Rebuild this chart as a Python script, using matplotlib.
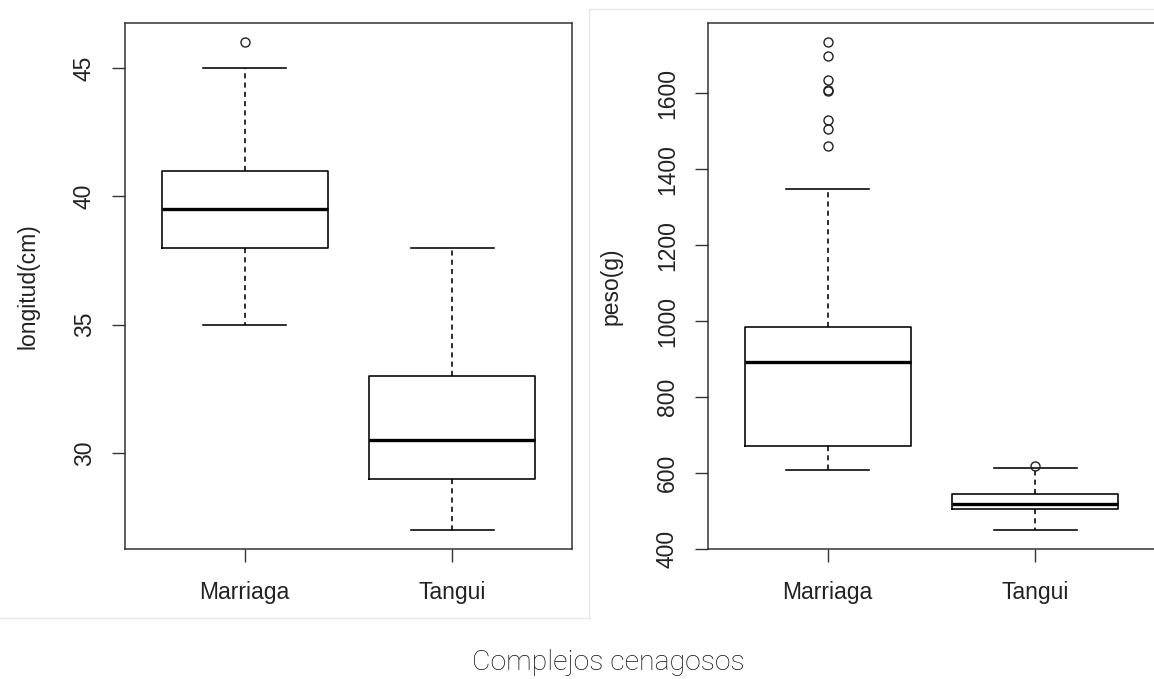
import matplotlib
matplotlib.use("Agg")
import matplotlib.pyplot as plt
from matplotlib.lines import Line2D

# ---- data ----
groups = ["Marriaga", "Tangui"]

long_whislo = [35, 27]
long_q1 = [38, 29]
long_med = [39.5, 30.5]
long_q3 = [41, 33]
long_whishi = [45, 38]
long_fliers = [[46], []]

peso_whislo = [608, 450]
peso_q1 = [672, 506]
peso_med = [892, 519]
peso_q3 = [984, 544]
peso_whishi = [1349, 612]
peso_fliers = [[1460, 1505, 1531, 1605, 1608, 1634, 1699, 1734], [619]]

long_ticks = [30, 35, 40, 45]
peso_ticks = [400, 600, 800, 1000, 1200, 1400, 1600]

plt.rcParams['font.family'] = ['Liberation Sans', 'DejaVu Sans']
TXT = '#222222'
FS = 16.5

W, H = 1154, 679
fig = plt.figure(figsize=(W / 100, H / 100), dpi=100)


def make_stats(lo, q1, med, q3, hi, fl):
    out = []
    for i in range(len(groups)):
        out.append(dict(whislo=lo[i], q1=q1[i], med=med[i], q3=q3[i],
                        whishi=hi[i], fliers=fl[i], label=groups[i]))
    return out


def panel(rect, stats, ticks, ylabel):
    ax = fig.add_axes(rect)
    ax.bxp(stats, positions=[1, 2], widths=0.8, showfliers=True,
           boxprops=dict(color='black', lw=1.15),
           medianprops=dict(color='black', lw=2.4, solid_capstyle='butt'),
           whiskerprops=dict(color='black', lw=1.15, linestyle=(0, (3.2, 2.6))),
           capprops=dict(color='black', lw=1.15),
           capwidths=0.4,
           flierprops=dict(marker='o', markerfacecolor='none',
                           markeredgecolor='#222222', markersize=6.5,
                           markeredgewidth=1.0, linestyle='none'))
    vals = []
    for s in stats:
        vals += [s['whislo'], s['whishi']] + list(s['fliers'])
    lo, hi = min(vals), max(vals)
    r = hi - lo
    ax.set_ylim(lo - 0.04 * r, hi + 0.04 * r)
    ax.set_xlim(0.42, 2.58)
    ax.set_yticks(ticks)
    ax.set_yticklabels([str(t) for t in ticks], rotation=90, va='center',
                       fontsize=FS, color=TXT)
    ax.set_xticks([1, 2])
    ax.set_xticklabels(groups, fontsize=FS, color=TXT)
    ax.tick_params(axis='both', direction='out', length=9.7, width=1.0,
                   color='#333333')
    ax.tick_params(axis='y', pad=11)
    ax.tick_params(axis='x', pad=13)
    for sp in ax.spines.values():
        sp.set_color('#333333')
        sp.set_linewidth(1.1)
    ax.set_ylabel(ylabel, fontsize=FS, color=TXT, va='center')
    ax.yaxis.set_label_coords(-0.2155, 0.5)
    return ax


top_px, bot_px = 23, 549.3
h = (bot_px - top_px) / H
b = (H - bot_px) / H
wid = 447.8 / W

panel([124.5 / W, b, wid, h],
      make_stats(long_whislo, long_q1, long_med, long_q3, long_whishi, long_fliers),
      long_ticks, "longitud(cm)")
panel([707.5 / W, b, wid, h],
      make_stats(peso_whislo, peso_q1, peso_med, peso_q3, peso_whishi, peso_fliers),
      peso_ticks, "peso(g)")

# faint borders of the two pasted images
def fline(xs, ys):
    fig.add_artist(Line2D([x / W for x in xs], [1 - y / H for y in ys],
                          color='#e8e8e8', lw=1.0, transform=fig.transFigure))

fline([0, 590], [618, 618])
fline([589, 589], [9, 618])
fline([589, W], [9, 9])

fig.text(608 / W, 9 / H, "Complejos cenagosos", family=['Roboto', 'DejaVu Sans'],
         fontweight='light', fontsize=20.5, color='#111111',
         ha='center', va='baseline')

fig.savefig("out.png", dpi=100)
